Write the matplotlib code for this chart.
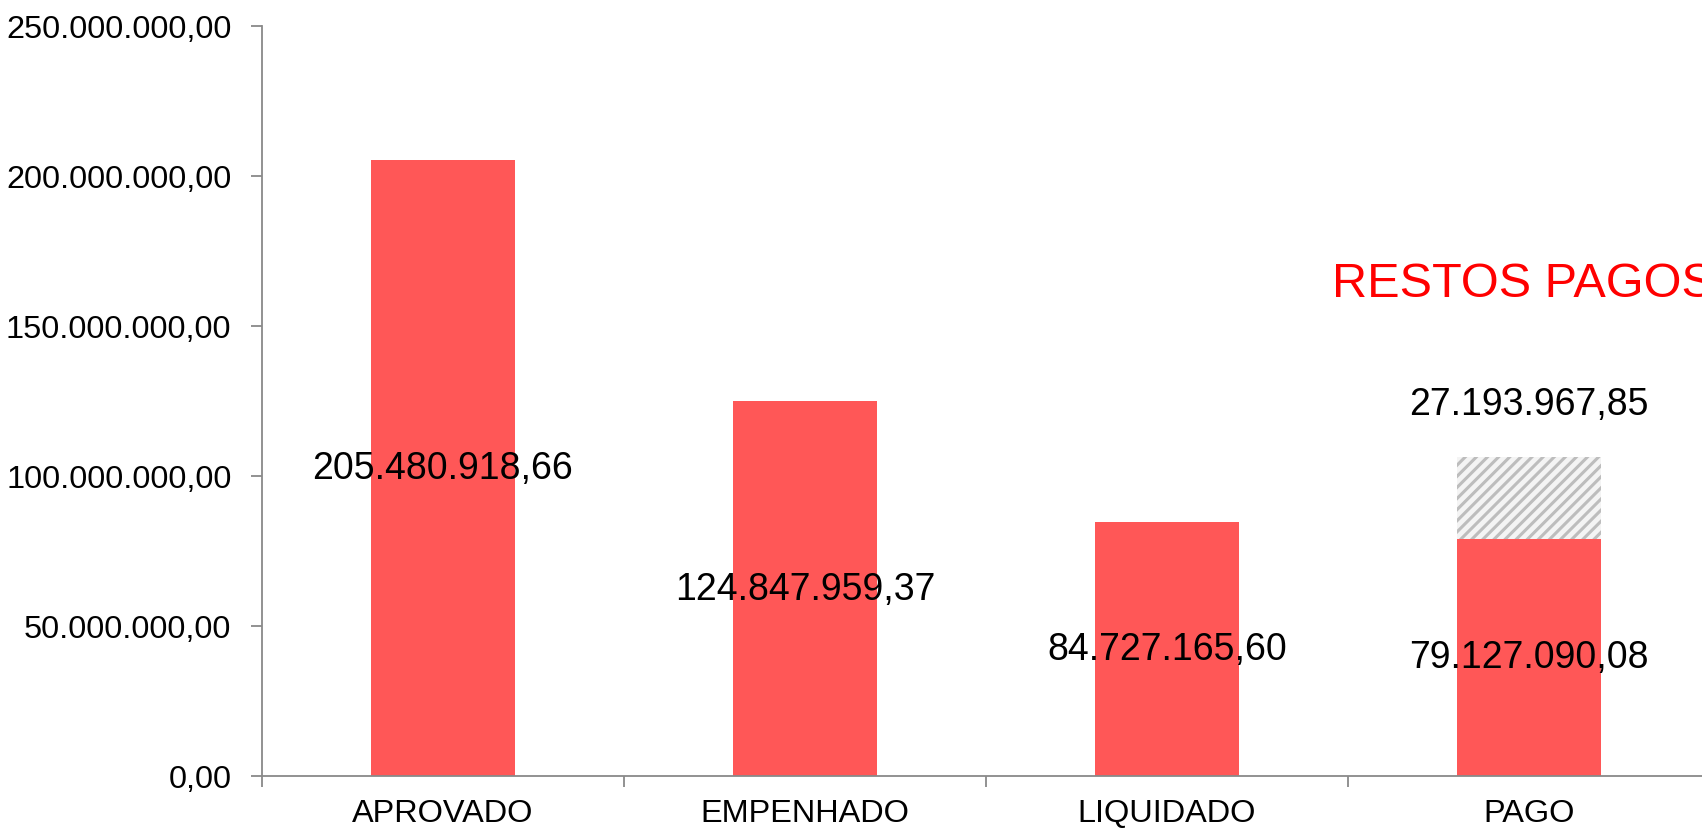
import matplotlib
matplotlib.use("Agg")
import matplotlib.pyplot as plt
from matplotlib.ticker import FuncFormatter

categorias = ["APROVADO", "EMPENHADO", "LIQUIDADO", "PAGO"]
valores = [205480918.66, 124847959.37, 84727165.60, 79127090.08]
restos_pagos = 27193967.85
y_ticks = [0, 50e6, 100e6, 150e6, 200e6, 250e6]

VERMELHO = "#ff5757"
CINZA = "#898989"


def br(v):
    # formato brasileiro: 1.234.567,89
    s = f"{v:,.2f}"
    return s.replace(",", "X").replace(".", ",").replace("X", ".")


plt.rcParams["font.family"] = ["Liberation Sans", "DejaVu Sans"]
plt.rcParams["hatch.linewidth"] = 2.2
plt.rcParams["hatch.color"] = "#bdbdbd"

fig = plt.figure(figsize=(17.02, 8.29), dpi=100)
ax = fig.add_axes([262 / 1702, 52 / 829, 4 * 362 / 1702, 750 / 829])

x = list(range(len(categorias)))
bars = ax.bar(x, valores, width=0.4, color=VERMELHO, zorder=2)
restos = ax.bar(x[-1], restos_pagos, width=0.4, bottom=valores[-1],
                color="#f4f4f4", hatch="///", edgecolor="#bdbdbd",
                linewidth=0, zorder=2)

for xi, v in zip(x, valores):
    ax.text(xi, v / 2, br(v), ha="center", va="center", fontsize=27)

ax.annotate(br(restos_pagos), (x[-1], valores[-1] + restos_pagos),
            xytext=(0, 38), textcoords="offset points",
            ha="center", va="center", fontsize=27)

ax.text(2.456, 164.3e6, "RESTOS PAGOS", color="red", fontsize=35,
        ha="left", va="center")

ax.set_xlim(-0.5, 3.5)
ax.set_ylim(0, 250e6)
ax.set_yticks(y_ticks)
ax.yaxis.set_major_formatter(FuncFormatter(lambda v, p: br(v)))

ax.set_xticks(x)
ax.set_xticklabels(categorias)
ax.set_xticks([-0.5, 0.5, 1.5, 2.5, 3.5], minor=True)
ax.tick_params(axis="x", which="major", length=0, pad=16, labelsize=23.4)
ax.tick_params(axis="x", which="minor", length=8, width=1.3, color=CINZA,
               direction="out")
ax.tick_params(axis="y", length=8, width=1.3, color=CINZA, pad=14,
               labelsize=23.4)

for side in ["top", "right"]:
    ax.spines[side].set_visible(False)
for side in ["left", "bottom"]:
    ax.spines[side].set_color(CINZA)
    ax.spines[side].set_linewidth(1.3)

fig.savefig("out.png", dpi=100)
